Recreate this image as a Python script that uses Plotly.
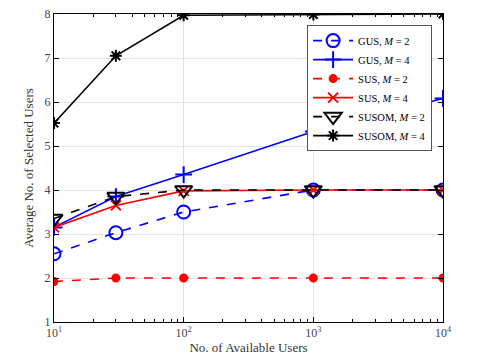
import plotly.graph_objects as go

users = [10, 30, 100, 1000, 10000]

gus_m2 = [2.55, 3.03, 3.50, 4.00, 4.00]
gus_m4 = [3.15, 3.85, 4.35, 5.33, 6.08]
sus_m2 = [1.92, 2.00, 2.00, 2.00, 2.00]
sus_m4 = [3.15, 3.65, 3.98, 4.00, 4.00]
susom_m2 = [3.35, 3.85, 4.00, 4.00, 4.00]
susom_m4 = [5.52, 7.05, 7.97, 7.99, 8.00]

x_ticks = [10, 100, 1000, 10000]
x_ticktext = ["10<sup>1</sup>", "10<sup>2</sup>", "10<sup>3</sup>", "10<sup>4</sup>"]

series = [
    ("GUS, <i>M</i> = 2", gus_m2, "blue", "dash", "circle-open", 13),
    ("GUS, <i>M</i> = 4", gus_m4, "blue", "solid", "cross-thin-open", 12),
    ("SUS, <i>M</i> = 2", sus_m2, "red", "dash", "circle", 7),
    ("SUS, <i>M</i> = 4", sus_m4, "red", "solid", "x-thin-open", 10),
    ("SUSOM, <i>M</i> = 2", susom_m2, "black", "dash", "triangle-down-open", 15),
    ("SUSOM, <i>M</i> = 4", susom_m4, "black", "solid", "asterisk-open", 10),
]

fig = go.Figure()
for name, vals, color, dash, symbol, size in series:
    fig.add_trace(go.Scatter(
        x=users, y=vals, name=name, mode="lines+markers",
        line=dict(color=color, width=1.6, dash=dash),
        marker=dict(symbol=symbol, size=size, color=color,
                    line=dict(color=color, width=2)),
    ))

axis_common = dict(
    showline=True, linecolor="black", linewidth=1, mirror="ticks",
    ticks="inside", tickcolor="black", ticklen=5, automargin=False,
    ticklabeloverflow="allow",
    showgrid=True, gridcolor="#e3e3e3", gridwidth=1,
    zeroline=False, tickfont=dict(size=12, color="#444"),
)

fig.update_xaxes(type="log", range=[1, 4], tickvals=x_ticks, ticktext=x_ticktext,
                 minor=dict(ticks="inside", ticklen=3, tickcolor="black", dtick="D1", showgrid=False),
                 title=dict(text="No. of Available Users", font=dict(size=13, color="#333"), standoff=2),
                 **axis_common)
fig.update_yaxes(range=[1, 8], dtick=1,
                 title=dict(text="Average No. of Selected Users", font=dict(size=13, color="#333"), standoff=8),
                 **axis_common)

# page body adds an 8px offset, margins account for it
fig.update_layout(
    width=483, height=362,
    margin=dict(l=46, r=48, t=6, b=48),
    paper_bgcolor="white", plot_bgcolor="white",
    font=dict(family="Liberation Serif", color="black"),
    legend=dict(x=0.972, y=0.964, xanchor="right", yanchor="top",
                bgcolor="white", bordercolor="#555", borderwidth=1,
                font=dict(size=10.5), tracegroupgap=0, itemwidth=40),
)

fig.write_html("out.html")
